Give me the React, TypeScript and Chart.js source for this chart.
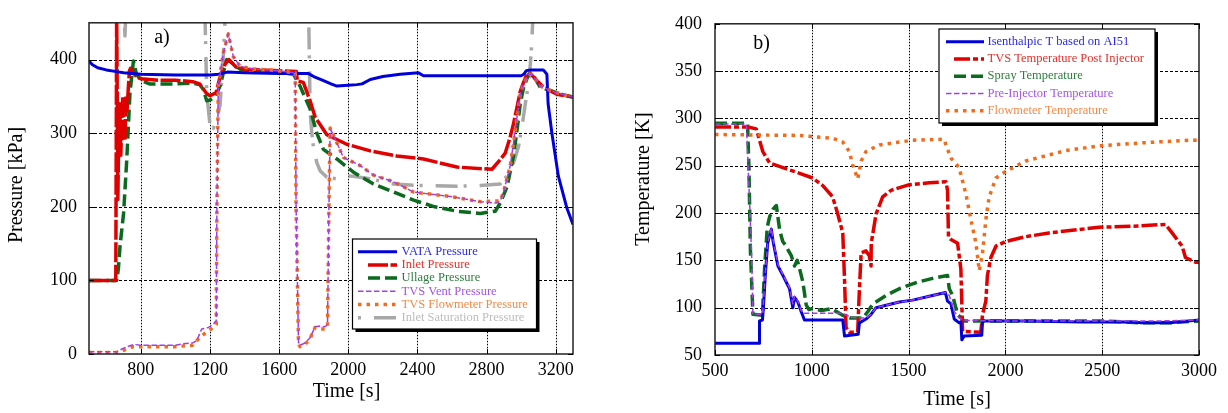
import React, { useEffect, useRef } from "react";
import { Chart, registerables } from "chart.js";

Chart.register(...registerables);

const FONT = '"Liberation Serif", "Times New Roman", Times, serif';

// ---------------- Panel a) : pressures ----------------
const aXTicks = [800, 1200, 1600, 2000, 2400, 2800, 3200];
const aYTicks = [0, 100, 200, 300, 400];

const vataT = [500, 520, 550, 600, 650, 700, 800, 1000, 1200, 1250, 1300, 1400, 1600, 1700, 1770, 1800, 1850, 1900, 1934, 2000, 2050, 2080, 2127, 2200, 2300, 2406, 2435, 2600, 2800, 3000, 3015, 3030, 3053, 3128, 3149, 3156, 3178, 3215, 3265, 3300];
const vataP = [398, 393, 389, 386, 384, 382, 380, 379, 379, 380, 383, 382, 381, 381, 381, 377, 372, 367, 364, 365, 366, 367, 373, 377, 380, 382, 378, 378, 378, 378, 380, 385, 386, 386, 380, 340, 300, 242, 198, 176];

const inletT = [500, 655, 660, 664, 667, 672, 678, 684, 690, 696, 702, 708, 714, 720, 727, 734, 740, 770, 800, 900, 1000, 1100, 1140, 1180, 1200, 1235, 1260, 1290, 1310, 1350, 1400, 1500, 1600, 1700, 1705, 1740, 1779, 1808, 1876, 1991, 2127, 2281, 2435, 2628, 2831, 2879, 2908, 2937, 2956, 2976, 2995, 3014, 3033, 3053, 3130, 3207, 3300];
const inletP = [100, 100, 470, 330, 210, 300, 340, 270, 320, 350, 300, 290, 350, 330, 360, 385, 388, 378, 374, 372, 372, 370, 367, 354, 351, 355, 378, 395, 400, 390, 387, 386, 385, 384, 371, 369, 344, 322, 298, 285, 276, 269, 265, 254, 251, 264, 273, 295, 313, 335, 357, 369, 380, 381, 362, 353, 349];

const ullageT = [500, 660, 670, 680, 700, 718, 737, 757, 775, 800, 850, 900, 1000, 1100, 1140, 1160, 1181, 1200, 1230, 1260, 1280, 1297, 1330, 1374, 1450, 1550, 1683, 1721, 1779, 1818, 1856, 1934, 2030, 2146, 2262, 2378, 2500, 2628, 2763, 2850, 2879, 2918, 2956, 2976, 2995, 3014, 3043, 3062, 3111, 3169, 3246, 3300];
const ullageP = [100, 100, 116, 148, 191, 262, 355, 398, 380, 372, 367, 367, 367, 368, 366, 360, 344, 345, 350, 365, 385, 400, 395, 387, 385, 384, 380, 364, 333, 300, 278, 265, 247, 231, 220, 209, 200, 194, 191, 194, 205, 227, 269, 304, 340, 362, 380, 382, 362, 358, 352, 349];

const ventT = [500, 660, 700, 757, 800, 1000, 1046, 1100, 1123, 1152, 1191, 1220, 1236, 1240, 1248, 1277, 1306, 1335, 1374, 1450, 1550, 1693, 1698, 1712, 1721, 1750, 1779, 1808, 1840, 1866, 1880, 1888, 1895, 1905, 1972, 2069, 2146, 2262, 2378, 2590, 2763, 2860, 2879, 2898, 2937, 2956, 2976, 2995, 3014, 3043, 3062, 3111, 3169, 3265, 3300];
const ventP = [3, 3, 8, 13, 12, 12, 14, 15, 18, 34, 36, 41, 45, 200, 364, 409, 435, 404, 391, 387, 386, 382, 200, 16, 12, 15, 22, 37, 38, 37, 40, 200, 305, 302, 267, 256, 243, 234, 220, 214, 207, 205, 208, 220, 256, 287, 322, 353, 367, 380, 380, 364, 358, 351, 350];

const flowT = [500, 660, 700, 757, 800, 1000, 1100, 1143, 1181, 1220, 1236, 1240, 1248, 1277, 1306, 1335, 1374, 1450, 1550, 1693, 1698, 1712, 1721, 1750, 1779, 1808, 1840, 1866, 1880, 1888, 1895, 1905, 1972, 2069, 2146, 2262, 2378, 2590, 2763, 2879, 2898, 2937, 2956, 2976, 2995, 3014, 3043, 3062, 3111, 3169, 3265, 3300];
const flowP = [2, 2, 5, 10, 10, 10, 12, 23, 30, 36, 40, 200, 364, 409, 435, 404, 391, 387, 386, 382, 200, 14, 10, 13, 21, 36, 34, 34, 36, 200, 307, 302, 267, 256, 243, 234, 220, 214, 207, 208, 220, 256, 287, 322, 353, 367, 380, 380, 364, 358, 351, 350];

const satT = [500, 690, 700, 708, 716, 726, 740, 1160, 1170, 1181, 1200, 1220, 1240, 1258, 1277, 1290, 1300, 1760, 1770, 1775, 1779, 1789, 1798, 1818, 1837, 1876, 1934, 2011, 2127, 2262, 2397, 2628, 2763, 2879, 2918, 2956, 2985, 3005, 3024, 3043, 3053, 3062, 3070, 3080, 3300];
const satP = [600, 600, 480, 432, 480, 600, 600, 600, 470, 355, 311, 307, 320, 338, 404, 470, 600, 600, 470, 400, 330, 300, 282, 260, 249, 240, 238, 242, 238, 231, 229, 228, 229, 231, 242, 260, 282, 309, 340, 367, 393, 424, 470, 600, 600];

// ---------------- Panel b) : temperatures ----------------
const bXTicks = [500, 1000, 1500, 2000, 2500, 3000];
const bYTicks = [50, 100, 150, 200, 250, 300, 350, 400];

const isenT = [500, 728, 730, 745, 750, 760, 772, 791, 800, 825, 851, 885, 902, 911, 928, 945, 962, 1160, 1169, 1240, 1246, 1280, 1306, 1332, 1452, 1521, 1607, 1690, 1701, 1719, 1727, 1736, 1761, 1770, 1775, 1787, 1878, 1882, 1900, 2100, 2400, 2650, 2700, 2850, 2900, 3000];
const isenV = [62.5, 62.5, 86, 87, 100, 135, 168, 183, 170, 144, 134, 120, 100, 111, 106, 96, 87, 87, 70, 72, 84, 88, 93, 100, 106, 108, 112, 116, 107, 104, 96, 88, 84, 85, 66, 70, 71, 86, 86, 86, 85, 85, 84, 84, 85, 87];

const postT = [500, 670, 713, 747, 782, 851, 937, 1005, 1057, 1108, 1134, 1160, 1169, 1177, 1194, 1237, 1246, 1255, 1280, 1297, 1306, 1307, 1332, 1366, 1409, 1504, 1607, 1693, 1701, 1706, 1719, 1753, 1770, 1779, 1873, 1882, 1899, 1907, 1925, 1951, 2002, 2105, 2225, 2483, 2655, 2827, 2861, 2913, 2930, 2982, 3000];
const postV = [291, 291, 289, 265, 253, 248, 242, 237, 229, 217, 199, 179, 130, 79, 74, 74, 120, 158, 160, 155, 144, 168, 199, 217, 224, 230, 232, 233, 224, 175, 172, 168, 141, 75, 74, 93, 107, 134, 153, 165, 170, 175, 179, 185, 186, 188, 179, 165, 153, 148, 148];

const sprayT = [500, 668, 675, 683, 696, 745, 756, 770, 782, 800, 817, 834, 850, 868, 880, 894, 911, 925, 937, 954, 971, 985, 1000, 1050, 1100, 1160, 1200, 1263, 1290, 1315, 1384, 1452, 1546, 1624, 1701, 1710, 1727, 1753, 1787, 2000, 2500, 2700, 2850, 3000];
const sprayV = [295, 295, 250, 160, 93, 92, 141, 185, 196, 204, 208, 182, 170, 165, 160, 155, 144, 150, 141, 127, 103, 98, 99, 97, 99, 92, 89, 89, 96, 104, 113, 120, 127, 131, 134, 120, 113, 93, 86, 86, 86, 84, 84, 86];

const preT = [500, 662, 670, 679, 690, 696, 739, 747, 756, 772, 791, 800, 825, 851, 885, 902, 911, 928, 945, 962, 1160, 1200, 1250, 1280, 1306, 1332, 1452, 1521, 1607, 1690, 1710, 1736, 1761, 1796, 2000, 2500, 2800, 3000];
const preV = [294, 294, 255, 210, 150, 93, 93, 95, 125, 168, 184, 172, 146, 135, 121, 104, 112, 107, 97, 94, 94, 90, 89, 89, 93, 100, 106, 108, 112, 116, 113, 96, 89, 86.5, 86, 86, 86, 87];

const fmT = [500, 937, 1108, 1160, 1194, 1211, 1237, 1255, 1280, 1349, 1452, 1521, 1684, 1693, 1719, 1761, 1796, 1822, 1848, 1865, 1882, 1899, 1916, 1951, 2002, 2105, 2311, 2483, 2689, 2947, 3000];
const fmV = [283, 282, 279, 275, 265, 251, 236, 255, 265, 272, 275, 277, 278, 272, 258, 248, 220, 193, 168, 139, 158, 193, 217, 237, 244, 255, 266, 271, 274, 277, 277];

// ---------------- styling ----------------
type Series = {
  label: string; t: number[]; v: number[]; color: string; text: string;
  width: number; dash: number[]; order: number; lx0: number;
};

const aSeries: Series[] = [
  { label: "VATA Pressure", t: vataT, v: vataP, color: "#0000dc", text: "#2a2ae6", width: 3, dash: [], order: 2, lx0: 358 },
  { label: "Inlet Pressure", t: inletT, v: inletP, color: "#e00000", text: "#e6302a", width: 3.5, dash: [20, 2.5], order: 3, lx0: 368 },
  { label: "Ullage Pressure", t: ullageT, v: ullageP, color: "#0b6a1e", text: "#2d7d3d", width: 3.5, dash: [12, 5], order: 4, lx0: 368 },
  { label: "TVS Vent Pressure", t: ventT, v: ventP, color: "#a23ee8", text: "#a653e6", width: 1.5, dash: [5.5, 2.5], order: 0, lx0: 358 },
  { label: "TVS Flowmeter Pressure", t: flowT, v: flowP, color: "#f06c1c", text: "#f28a48", width: 3.5, dash: [3.5, 5], order: 1, lx0: 358 },
  { label: "Inlet Saturation Pressure", t: satT, v: satP, color: "#a8a8a8", text: "#bcbcbc", width: 3.5, dash: [3, 13, 22, 6], order: 5, lx0: 358 },
];

const bSeries: Series[] = [
  { label: "Isenthalpic T based on AI51", t: isenT, v: isenV, color: "#0000dc", text: "#2a2ae6", width: 3, dash: [], order: 1, lx0: 946 },
  { label: "TVS Temperature Post Injector", t: postT, v: postV, color: "#e00000", text: "#e6302a", width: 3.5, dash: [16, 3, 5, 3], order: 3, lx0: 954 },
  { label: "Spray Temperature", t: sprayT, v: sprayV, color: "#0b6a1e", text: "#2d7d3d", width: 3.5, dash: [12, 5], order: 4, lx0: 954 },
  { label: "Pre-Injector Temperature", t: preT, v: preV, color: "#a23ee8", text: "#a653e6", width: 1.5, dash: [5.5, 2.5], order: 0, lx0: 946 },
  { label: "Flowmeter Temperature", t: fmT, v: fmV, color: "#f06c1c", text: "#f28a48", width: 3.5, dash: [3.5, 5], order: 2, lx0: 946 },
];

type Panel = {
  id: string; left: number; width: number;
  area: { left: number; top: number; right: number; bottom: number };
  xMin: number; xMax: number; yMin: number; yMax: number;
  xTicks: number[]; yTicks: number[]; yPad: number;
  series: Series[];
  legend: { x: number; y: number; w: number; h: number; row0: number; step: number; lx1: number; tx: number };
  xTitle: { text: string; x: number; y: number };
  yTitle: { text: string; x: number; y: number };
  tag: { text: string; x: number; y: number };
};

const panelA: Panel = {
  id: "a", left: 0, width: 605,
  area: { left: 89, top: 16, right: 573, bottom: 354 },
  xMin: 500, xMax: 3300, yMin: 0, yMax: 450,
  xTicks: aXTicks, yTicks: aYTicks, yPad: 12,
  series: aSeries,
  legend: { x: 352.5, y: 239, w: 184, h: 90, row0: 251.7, step: 13.2, lx1: 397, tx: 401.5 },
  xTitle: { text: "Time [s]", x: 346.5, y: 392 },
  yTitle: { text: "Pressure [kPa]", x: 17, y: 185 },
  tag: { text: "a)", x: 162, y: 38 },
};

const panelB: Panel = {
  id: "b", left: 605, width: 623,
  area: { left: 110, top: 16, right: 594, bottom: 355 },
  xMin: 500, xMax: 3000, yMin: 50, yMax: 400,
  xTicks: bXTicks, yTicks: bYTicks, yPad: 13,
  series: bSeries,
  legend: { x: 939, y: 29, w: 216, h: 94, row0: 41.7, step: 17.25, lx1: 984, tx: 987.5 },
  xTitle: { text: "Time [s]", x: 957, y: 400 },
  yTitle: { text: "Temperature [K]", x: 644, y: 179 },
  tag: { text: "b)", x: 761.5, y: 43.5 },
};

function decor(p: Panel) {
  return {
    id: "decor_" + p.id,
    beforeDatasetsDraw(chart: any) {
      const { ctx, chartArea: a, scales } = chart;
      const xs = scales.x;
      const ys = scales.y;
      ctx.save();
      ctx.strokeStyle = "#000";
      ctx.lineWidth = 1;
      ctx.setLineDash([1.5, 1.5]);
      for (const t of xs.ticks) {
        const px = Math.round(xs.getPixelForValue(t.value)) + 0.5;
        if (px <= a.left + 1 || px >= a.right - 1) continue;
        ctx.beginPath();
        ctx.moveTo(px, a.top);
        ctx.lineTo(px, a.bottom);
        ctx.stroke();
      }
      ctx.setLineDash([3, 2]);
      for (const t of ys.ticks) {
        const py = Math.round(ys.getPixelForValue(t.value)) + 0.5;
        if (py <= a.top + 1 || py >= a.bottom - 1) continue;
        ctx.beginPath();
        ctx.moveTo(a.left, py);
        ctx.lineTo(a.right, py);
        ctx.stroke();
      }
      ctx.restore();
    },
    afterDatasetsDraw(chart: any) {
      const { ctx, chartArea: a, scales } = chart;
      const xs = scales.x;
      const ys = scales.y;
      const ox = p.left;
      ctx.save();
      ctx.setLineDash([]);
      // frame
      ctx.strokeStyle = "#222";
      ctx.lineWidth = 1.5;
      ctx.strokeRect(a.left, a.top, a.right - a.left, a.bottom - a.top);
      // inward tick marks
      ctx.lineWidth = 1;
      ctx.strokeStyle = "#000";
      for (const t of xs.ticks) {
        const px = Math.round(xs.getPixelForValue(t.value)) + 0.5;
        ctx.beginPath();
        ctx.moveTo(px, a.top); ctx.lineTo(px, a.top + 5);
        ctx.moveTo(px, a.bottom); ctx.lineTo(px, a.bottom - 5);
        ctx.stroke();
      }
      for (const t of ys.ticks) {
        const py = Math.round(ys.getPixelForValue(t.value)) + 0.5;
        ctx.beginPath();
        ctx.moveTo(a.left, py); ctx.lineTo(a.left + 5, py);
        ctx.moveTo(a.right, py); ctx.lineTo(a.right - 5, py);
        ctx.stroke();
      }
      // legend
      const L = p.legend;
      ctx.fillStyle = "#000";
      ctx.fillRect(L.x - ox + 3, L.y + 3, L.w, L.h);
      ctx.fillStyle = "#fff";
      ctx.fillRect(L.x - ox, L.y, L.w, L.h);
      ctx.strokeStyle = "#000";
      ctx.lineWidth = 1.2;
      ctx.strokeRect(L.x - ox, L.y, L.w, L.h);
      p.series.forEach((s, i) => {
        const ry = L.row0 + i * L.step;
        ctx.save();
        ctx.setLineDash(s.dash);
        ctx.lineCap = "butt";
        ctx.lineWidth = s.width;
        ctx.strokeStyle = s.color;
        ctx.beginPath();
        ctx.moveTo(s.lx0 - ox, ry);
        ctx.lineTo(L.lx1 - ox, ry);
        ctx.stroke();
        ctx.restore();
        ctx.fillStyle = s.text;
        ctx.font = `12.5px ${FONT}`;
        ctx.textAlign = "left";
        ctx.textBaseline = "middle";
        ctx.fillText(s.label, L.tx - ox, ry);
      });
      // titles
      ctx.fillStyle = "#000";
      ctx.font = `20px ${FONT}`;
      ctx.textAlign = "center";
      ctx.textBaseline = "middle";
      ctx.fillText(p.xTitle.text, p.xTitle.x - ox, p.xTitle.y);
      ctx.fillText(p.tag.text, p.tag.x - ox, p.tag.y);
      ctx.save();
      ctx.translate(p.yTitle.x - ox, p.yTitle.y);
      ctx.rotate(-Math.PI / 2);
      ctx.fillText(p.yTitle.text, 0, 0);
      ctx.restore();
      ctx.restore();
    },
  };
}

function makeConfig(p: Panel): any {
  const X_AXIS_H = 40;
  const plain = (v: any) => String(v);
  return {
    type: "line",
    data: {
      datasets: p.series.map((s) => ({
        label: s.label,
        data: s.t.map((t, i) => ({ x: t, y: s.v[i] })),
        borderColor: s.color,
        backgroundColor: s.color,
        borderWidth: s.width,
        borderDash: s.dash,
        borderCapStyle: "butt",
        borderJoinStyle: "round",
        pointRadius: 0,
        pointHoverRadius: 0,
        tension: 0,
        fill: false,
        order: s.order,
      })),
    },
    options: {
      responsive: false,
      maintainAspectRatio: false,
      animation: false,
      devicePixelRatio: 1,
      events: [],
      layout: {
        padding: {
          left: 0,
          top: p.area.top,
          right: p.width - p.area.right,
          bottom: 413 - p.area.bottom - X_AXIS_H,
        },
      },
      plugins: {
        legend: { display: false },
        tooltip: { enabled: false },
        title: { display: false },
      },
      scales: {
        x: {
          type: "linear",
          min: p.xMin,
          max: p.xMax,
          afterBuildTicks: (s: any) => { s.ticks = p.xTicks.map((v) => ({ value: v })); },
          afterFit: (s: any) => { s.height = X_AXIS_H; },
          grid: { display: false, drawTicks: false },
          border: { display: false },
          ticks: { color: "#000", font: { family: FONT, size: 18 }, padding: 5, maxRotation: 0, autoSkip: false, callback: plain },
        },
        y: {
          type: "linear",
          min: p.yMin,
          max: p.yMax,
          afterBuildTicks: (s: any) => { s.ticks = p.yTicks.map((v) => ({ value: v })); },
          afterFit: (s: any) => { s.width = p.area.left; },
          grid: { display: false, drawTicks: false },
          border: { display: false },
          ticks: { color: "#000", font: { family: FONT, size: 18 }, padding: p.yPad, autoSkip: false, callback: plain },
        },
      },
    },
    plugins: [decor(p)],
  };
}

export default function App() {
  const refA = useRef<HTMLCanvasElement>(null);
  const refB = useRef<HTMLCanvasElement>(null);
  useEffect(() => {
    const cA = new Chart(refA.current as HTMLCanvasElement, makeConfig(panelA));
    const cB = new Chart(refB.current as HTMLCanvasElement, makeConfig(panelB));
    return () => {
      cA.destroy();
      cB.destroy();
    };
  }, []);
  return (
    <div style={{ position: "absolute", left: 0, top: 0, width: 1228, height: 413, background: "#fff" }}>
      <canvas ref={refA} width={605} height={413} style={{ position: "absolute", left: 0, top: 0, width: 605, height: 413 }} />
      <canvas ref={refB} width={623} height={413} style={{ position: "absolute", left: 605, top: 0, width: 623, height: 413 }} />
    </div>
  );
}
